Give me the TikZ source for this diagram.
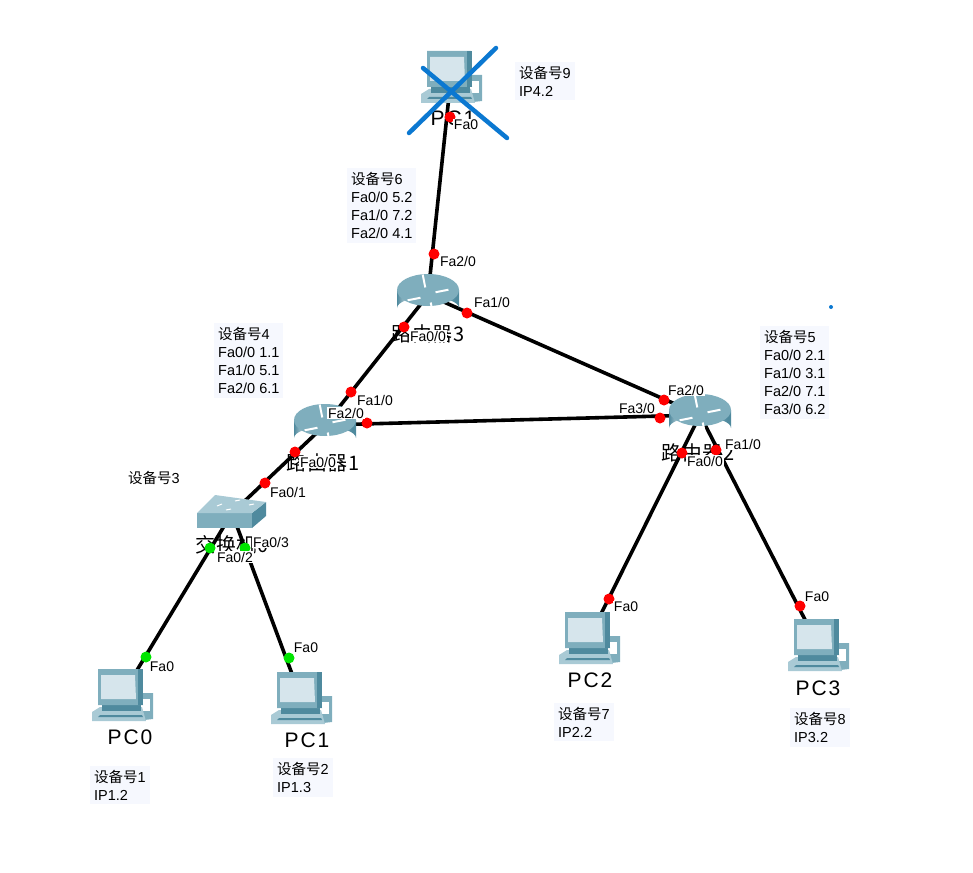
\documentclass[tikz,border=0pt]{standalone}
\usepackage{fontspec}
\setmainfont{Liberation Sans}
\newfontfamily\cjk{Noto Sans CJK SC}
\newfontfamily\hostlat[LetterSpace=9]{Liberation Sans}
\newfontfamily\hostcjk[LetterSpace=4]{Noto Sans CJK SC}
\usetikzlibrary{arrows.meta, positioning}
\definecolor{infobg}{HTML}{F6F8FE}
\definecolor{crossblue}{HTML}{0B78D1}
\definecolor{tealdark}{HTML}{4F8A9E}
\definecolor{tealmid}{HTML}{7FAEBD}
\definecolor{teallight}{HTML}{A9CAD5}
\definecolor{screen}{HTML}{D6E5EC}
\pgfdeclarehorizontalshading{routerbody}{100bp}{
  color(0bp)=(tealmid); color(25bp)=(tealdark); color(38bp)=(white);
  color(50bp)=(teallight); color(72bp)=(tealdark); color(100bp)=(tealdark)}
\newcommand{\sbh}[1]{{\cjk 设备号}#1}

\tikzset{
  routerpic/.pic={
    \path[shading=routerbody] (-31,-5) -- (-31,13) arc[start angle=180, end angle=360, x radius=31, y radius=11]
      -- (31,-5) -- cycle;
    \fill[tealmid] (0,-5) ellipse[x radius=31, y radius=16];
    \foreach \a in {20,110,200,290} {
      \draw[white, line width=2pt, rotate=\a, yscale=0.5] (8,0) -- (21,4);
    }
  },
  pcpic/.pic={
    \fill[tealmid] (13,-2) -- (31,-2) -- (31,24) -- (13,26) -- cycle;
    \fill[white] (16,4) rectangle (28,16);
    \fill[teallight] (-30,17) -- (-22,12) -- (20,12) -- (24,26) -- (-30,26) -- cycle;
    \fill[tealdark] (-22,20) -- (20,20) -- (21,22) -- (-24,22) -- cycle;
    \fill[tealdark] (-20,10) rectangle (19,16);
    \fill[tealmid] (-24,-26) -- (20,-26) -- (21,10) -- (-24,10) -- cycle;
    \fill[tealdark] (16,-26) -- (21,-26) -- (21,10) -- (16,10) -- cycle;
    \fill[screen] (-21,-20) -- (13,-20) -- (14,4) -- (-21,4) -- cycle;
  },
  switchpic/.pic={
    \fill[tealdark] (20,0) -- (34,-11) -- (34,3) -- (20,15) -- cycle;
    \fill[tealmid] (-35,0) rectangle (20,15);
    \fill[teallight] (-35,0) -- (-17,-18) -- (34,-11) -- (20,0) -- cycle;
    \draw[white, line width=1pt] (-15,-7) -- (-10,-9) (3,-12) -- (8,-13) (-6,-3) -- (-1,-4) (17,-8) -- (22,-9);
  }
}

\begin{document}
\begin{tikzpicture}[x=1pt, y=-1pt, line cap=butt,
    dev/.style={inner sep=0pt, minimum size=1pt},
    link/.style={draw=black, line width=3.6pt},
    dot/.style={circle, fill=red, inner sep=0pt, minimum size=11pt},
    gdot/.style={dot, fill=green!90!black},
    port/.style={fill=white, inner sep=1pt, font=\fontsize{14}{15}\selectfont},
    info/.style={fill=infobg, anchor=north west, align=left, inner sep=4pt, font=\fontsize{14.5}{18}\selectfont},
    hostp/.style={inner sep=0pt, font=\fontsize{21}{22}\selectfont\hostlat},
    hostc/.style={inner sep=0pt, font=\fontsize{20}{22}\selectfont\hostcjk}]
    \useasboundingbox (0,0) rectangle (973,872);

    % devices
    \node[dev] (pcfour) at (451,77) {};
    \node[dev] (rthree) at (428,295) {};
    \node[dev] (rone) at (325,425) {};
    \node[dev] (rtwo) at (700,415) {};
    \node[dev] (sw) at (232,513) {};
    \node[dev] (pczero) at (122,695) {};
    \node[dev] (pcone) at (301,698) {};
    \node[dev] (pctwo) at (589,638) {};
    \node[dev] (pcthree) at (818,645) {};

    \draw[link] (pcfour) -- (rthree);
    \draw[link] (rthree) -- (rone);
    \draw[link] (rthree) -- (rtwo);
    \draw[link] (rone) -- (rtwo);
    \draw[link] (rone) -- (sw);
    \draw[link] (sw) -- (pczero);
    \draw[link] (sw) -- (pcone);
    \draw[link] (rtwo) -- (pctwo);
    \draw[link] (rtwo) -- (pcthree);

    \pic at (pcfour) {pcpic};
    \pic at (rthree) {routerpic};
    \pic at (rone) {routerpic};
    \pic at (rtwo) {routerpic};
    \pic at (sw) {switchpic};
    \pic at (pczero) {pcpic};
    \pic at (pcone) {pcpic};
    \pic at (pctwo) {pcpic};
    \pic at (pcthree) {pcpic};

    % names
    \node[hostp] (hfour) at (453,118) {PC1};
    \node[hostc] (hrthree) at (428,334) {路由器3};
    \node[hostc] (hrone) at (323,463) {路由器1};
    \node[hostc] (hrtwo) at (698,453) {路由器2};
    \node[hostc] (hsw) at (232,545) {交换机0};
    \node[hostp] (hzero) at (130,737) {PC0};
    \node[hostp] (hone) at (307,740) {PC1};
    \node[hostp] (htwo) at (590,680) {PC2};
    \node[hostp] (hthree) at (818,688) {PC3};

    % ports
    \node[dot] (d1) at (450,117) {};
    \node[dot] (d2) at (434,254) {};
    \node[dot] (d3) at (467,313) {};
    \node[dot] (d4) at (404,327) {};
    \node[dot] (d5) at (351,392) {};
    \node[dot] (d6) at (367,423) {};
    \node[dot] (d7) at (295,452) {};
    \node[dot] (d8) at (265,483) {};
    \node[dot] (d9) at (664,400) {};
    \node[dot] (d10) at (660,418) {};
    \node[dot] (d11) at (682,453) {};
    \node[dot] (d12) at (716,450) {};
    \node[dot] (d13) at (609,599) {};
    \node[dot] (d14) at (800,606) {};
    \node[gdot] (d15) at (210,548) {};
    \node[gdot] (d16) at (245,548) {};
    \node[gdot] (d17) at (146,657) {};
    \node[gdot] (d18) at (289,658) {};

    \node[port] (p1) at (466,125) {Fa0};
    \node[port] (p2) at (458,261) {Fa2/0};
    \node[port] (p3) at (492,302) {Fa1/0};
    \node[port] (p4) at (428,336) {Fa0/0};
    \node[port] (p5) at (375,400) {Fa1/0};
    \node[port] (p6) at (346,413) {Fa2/0};
    \node[port] (p7) at (318,462) {Fa0/0};
    \node[port] (p8) at (288,492) {Fa0/1};
    \node[port] (p9) at (271,542) {Fa0/3};
    \node[port] (p10) at (235,557) {Fa0/2};
    \node[port] (p11) at (686,390) {Fa2/0};
    \node[port] (p12) at (637,408) {Fa3/0};
    \node[port] (p13) at (743,444) {Fa1/0};
    \node[port] (p14) at (705,461) {Fa0/0};
    \node[port] (p15) at (162,667) {Fa0};
    \node[port] (p16) at (306,648) {Fa0};
    \node[port] (p17) at (626,607) {Fa0};
    \node[port] (p18) at (817,597) {Fa0};

    % notes
    \node[info] (n9) at (515,62) {\sbh{9}\\IP4.2};
    \node[info] (n6) at (347,168) {\sbh{6}\\Fa0/0 5.2\\Fa1/0 7.2\\Fa2/0 4.1};
    \node[info] (n4) at (214,323) {\sbh{4}\\Fa0/0 1.1\\Fa1/0 5.1\\Fa2/0 6.1};
    \node[info] (n5) at (760,326) {\sbh{5}\\Fa0/0 2.1\\Fa1/0 3.1\\Fa2/0 7.1\\Fa3/0 6.2};
    \node[info, fill=white] (n3) at (124,467) {\sbh{3}};
    \node[info] (n1) at (90,766) {\sbh{1}\\IP1.2};
    \node[info] (n2) at (273,758) {\sbh{2}\\IP1.3};
    \node[info] (n7) at (554,703) {\sbh{7}\\IP2.2};
    \node[info] (n8) at (790,708) {\sbh{8}\\IP3.2};

    % cross over the removed host
    \coordinate (xa) at (409,133);
    \coordinate (xb) at (496,48);
    \coordinate (xc) at (423,68);
    \coordinate (xd) at (507,138);
    \draw[crossblue, line width=4.5pt, line cap=round] (xa) -- (xb);
    \draw[crossblue, line width=4.5pt, line cap=round] (xc) -- (xd);
    \node[circle, fill=crossblue, inner sep=0pt, minimum size=4pt] (speck) at (831,307) {};
\end{tikzpicture}
\end{document}
